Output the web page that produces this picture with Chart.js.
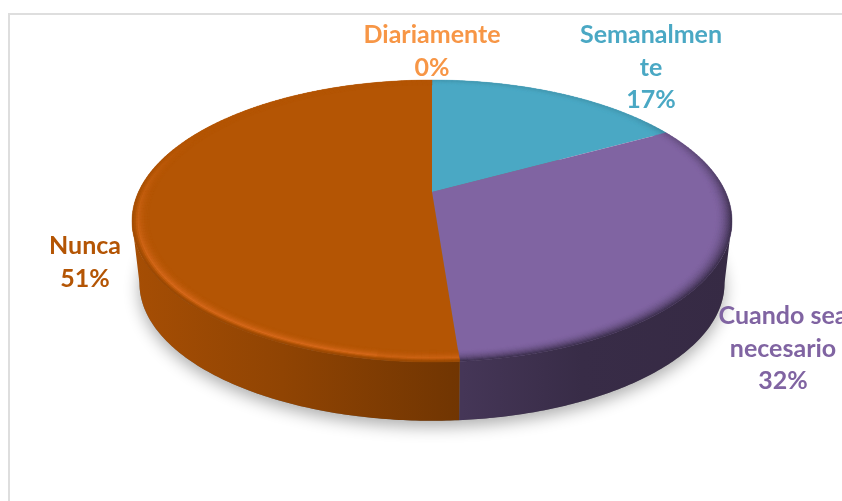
<!DOCTYPE html>
<html>
<head>
<meta charset="utf-8">
<style>html,body{margin:0;padding:0;background:#fff;overflow:hidden}canvas{display:block}</style>
<script src="https://cdn.jsdelivr.net/npm/chart.js@4/dist/chart.umd.min.js"></script>
</head>
<body>
<canvas id="c" width="842" height="501"></canvas>
<script>
const categories = ["Diariamente", "Semanalmente", "Cuando sea necesario", "Nunca"];
const values = [0, 17, 31.8, 51.2];
const colors = ["#F79646", "#4AA8C4", "#8064A2", "#B45504"];
const labelLines = [["Diariamente"], ["Semanalmen", "te"], ["Cuando sea", "necesario"], ["Nunca"]];

// projection of the flat pie onto a tilted disc
const P = {cx: 432, cy: 192, a: 95.55, c: -0.2057, A: 293.6, depth: 63, shrink: 0.975};
function proj(ang, r, low) {
  const u = Math.cos(ang) * r, v = Math.sin(ang) * r, w = 1 + P.c * v;
  let x = P.A * u / w, y = (P.a * v + P.cy) / w - P.cy;
  if (low) { x *= P.shrink; y = y * P.shrink + P.depth; }
  return [P.cx + x, P.cy + y];
}
const rgb = h => [1, 3, 5].map(i => parseInt(h.substr(i, 2), 16));
const css = c => `rgb(${c.map(v => Math.max(0, Math.min(255, Math.round(v)))).join(",")})`;
const mix = (a, b, t) => a.map((v, i) => v + (b[i] - v) * t);
const mul = (a, k) => a.map(v => v * k);

const tilted = {
  id: "tilted",
  beforeDraw(chart) {
    const ctx = chart.ctx;
    ctx.save();
    ctx.fillStyle = "#fff";
    ctx.fillRect(0, 0, chart.width, chart.height);
    ctx.fillStyle = "#DEDEDE";
    ctx.fillRect(8, 13, chart.width - 8, 2);
    ctx.fillRect(8, 13, 2, chart.height - 13);
    ctx.restore();
  },
  beforeDatasetsDraw(chart) {
    const ctx = chart.ctx, arcs = chart.getDatasetMeta(0).data;
    const rim = Math.asin(-P.c);
    ctx.save();
    // soft shadow under the disc
    ctx.save();
    ctx.shadowColor = "rgba(0,0,0,0.32)";
    ctx.shadowBlur = 16;
    ctx.shadowOffsetY = 6;
    ctx.fillStyle = "#777";
    ctx.beginPath();
    for (let d = 0; d <= 360; d += 2) {
      const p = proj(d * Math.PI / 180, 1, true);
      d ? ctx.lineTo(p[0], p[1]) : ctx.moveTo(p[0], p[1]);
    }
    ctx.closePath();
    ctx.fill();
    ctx.restore();
    // side walls
    arcs.forEach((arc, i) => {
      const base = rgb(colors[i]);
      const isLeft = (arc.startAngle + arc.endAngle) / 2 > Math.PI / 2;
      const s = Math.max(arc.startAngle, rim), e = Math.min(arc.endAngle, Math.PI - rim);
      if (e <= s) return;
      const g = ctx.createLinearGradient(132, 0, 732, 0);
      if (isLeft) {
        g.addColorStop(0, css(mul(base, 0.92)));
        g.addColorStop(0.25, css(mul(base, 0.80)));
        g.addColorStop(0.55, css(mul(base, 0.62)));
        g.addColorStop(1, css(mul(base, 0.55)));
      } else {
        g.addColorStop(0, css(mul(base, 0.56)));
        g.addColorStop(0.55, css(mul(base, 0.54)));
        g.addColorStop(0.75, css(mul(base, 0.44)));
        g.addColorStop(1, css(mul(base, 0.42)));
      }
      ctx.fillStyle = g;
      ctx.beginPath();
      const n = 120;
      for (let k = 0; k <= n; k++) {
        const p = proj(s + (e - s) * k / n, 1, false);
        k ? ctx.lineTo(p[0], p[1]) : ctx.moveTo(p[0], p[1]);
      }
      for (let k = n; k >= 0; k--) {
        const p = proj(s + (e - s) * k / n, 1, true);
        ctx.lineTo(p[0], p[1]);
      }
      ctx.closePath();
      ctx.fill();
    });
    // top faces
    arcs.forEach((arc, i) => {
      if (arc.endAngle - arc.startAngle < 1e-4) return;
      ctx.fillStyle = colors[i];
      ctx.beginPath();
      let p = proj(0, 0);
      ctx.moveTo(p[0], p[1]);
      const n = 200;
      for (let k = 0; k <= n; k++) {
        p = proj(arc.startAngle + (arc.endAngle - arc.startAngle) * k / n, 1);
        ctx.lineTo(p[0], p[1]);
      }
      ctx.closePath();
      ctx.fill();
    });
    // bevel along the rim
    const rings = 10, r0 = 0.945;
    arcs.forEach((arc, i) => {
      const span = arc.endAngle - arc.startAngle;
      if (span < 1e-4) return;
      const base = rgb(colors[i]);
      const lit = (arc.startAngle + arc.endAngle) / 2 > Math.PI / 2;
      const steps = Math.ceil(span / (Math.PI / 150));
      for (let j = 0; j < rings; j++) {
        const t = (j + 0.5) / rings;
        for (let k = 0; k < steps; k++) {
          const a0 = arc.startAngle + span * k / steps, a1 = arc.startAngle + span * (k + 1) / steps;
          const am = (a0 + a1) / 2, v = Math.sin(am);
          let col = base;
          if (lit) {
            const fade = Math.max(0, Math.min(1, (v + 0.45) / 1.05));
            const peak = t < 0.65 ? t / 0.65 : 1 - (t - 0.65) / 0.35;
            const front = Math.max(0, Math.min(1, (am - Math.PI * 0.55 < 0 ? 0.7 : 1)));
            col = mix(base, [226, 112, 36], peak * peak * fade * 0.75 * front);
            if (t > 0.75) col = mix(col, mul(base, 0.82), (t - 0.75) / 0.25 * fade);
          } else {
            const fade = Math.max(0.18, Math.min(1, (v + 0.8) / 1.0));
            col = mix(base, mul(base, 0.45), t * t * fade);
          }
          const r1 = r0 + (1 - r0) * j / rings, r2 = r0 + (1 - r0) * (j + 1) / rings;
          const q = [proj(a0, r1), proj(a1, r1), proj(a1, r2), proj(a0, r2)];
          ctx.fillStyle = css(col);
          ctx.strokeStyle = ctx.fillStyle;
          ctx.lineWidth = 0.4;
          ctx.beginPath();
          ctx.moveTo(q[0][0], q[0][1]);
          for (let m = 1; m < 4; m++) ctx.lineTo(q[m][0], q[m][1]);
          ctx.closePath();
          ctx.fill();
          ctx.stroke();
        }
      }
    });
    ctx.restore();
    return false;
  },
  afterDraw(chart) {
    const ctx = chart.ctx;
    const anchors = [[432, 35], [651, 35], [783, 316], [85, 246]];
    ctx.save();
    ctx.font = "bold 25px Lato, Carlito, sans-serif";
    ctx.textAlign = "center";
    ctx.textBaseline = "middle";
    labelLines.forEach((lines, i) => {
      ctx.fillStyle = colors[i];
      const all = lines.concat(Math.round(values[i]) + "%");
      all.forEach((t, j) => ctx.fillText(t, anchors[i][0], anchors[i][1] + j * 32.5));
    });
    ctx.restore();
  }
};

new Chart(document.getElementById("c"), {
  type: "pie",
  data: { labels: categories, datasets: [{ data: values, backgroundColor: colors, borderWidth: 0 }] },
  options: {
    responsive: false,
    animation: false,
    plugins: { legend: { display: false }, tooltip: { enabled: false } }
  },
  plugins: [tilted]
});
</script>
</body>
</html>
